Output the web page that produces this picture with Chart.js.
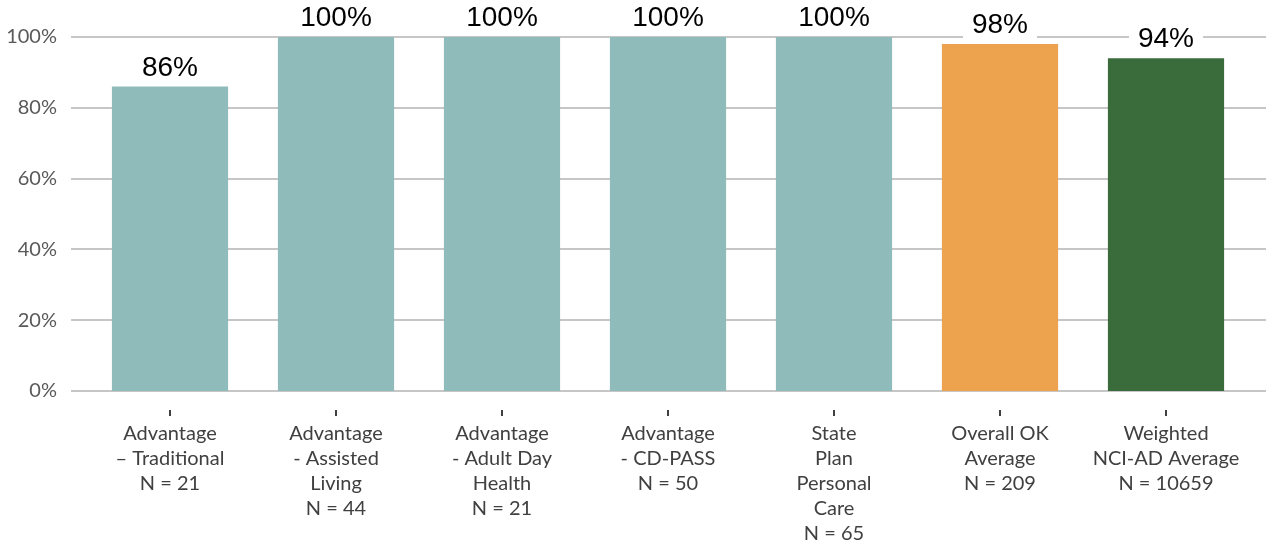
<!DOCTYPE html>
<html>
<head>
<meta charset="utf-8">
<script src="https://cdn.jsdelivr.net/npm/chart.js@4.4.1/dist/chart.umd.min.js"></script>
<style>
  html, body { margin: 0; padding: 0; background: #fff; }
  #wrap { width: 1266px; height: 547px; position: relative; }
</style>
</head>
<body>
<div id="wrap"><canvas id="myChart"></canvas></div>
<script>
const categories = [
  ["Advantage", "\u2013 Traditional", "N = 21"],
  ["Advantage", "- Assisted", "Living", "N = 44"],
  ["Advantage", "- Adult Day", "Health", "N = 21"],
  ["Advantage", "- CD-PASS", "N = 50"],
  ["State", "Plan", "Personal", "Care", "N = 65"],
  ["Overall OK", "Average", "N = 209"],
  ["Weighted", "NCI-AD Average", "N = 10659"]
];
const percentValues = [86, 100, 100, 100, 100, 98, 94];
const barColors = ["#8fbcbb", "#8fbcbb", "#8fbcbb", "#8fbcbb", "#8fbcbb", "#eda24d", "#3a6b3b"];
const yTicks = [0, 20, 40, 60, 80, 100];

// gridlines run wider than the bar area, plus little tick marks under the axis
const gridPlugin = {
  id: "gridPlugin",
  beforeDatasetsDraw(chart) {
    const { ctx, scales: { x, y } } = chart;
    ctx.save();
    ctx.strokeStyle = "#c6c6c6";
    ctx.lineWidth = 2;
    yTicks.forEach(v => {
      const py = Math.round(y.getPixelForValue(v));
      ctx.beginPath();
      ctx.moveTo(71, py);
      ctx.lineTo(chart.width, py);
      ctx.stroke();
    });
    ctx.strokeStyle = "#404040";
    ctx.lineWidth = 2;
    categories.forEach((c, i) => {
      const px = Math.round(x.getPixelForValue(i));
      ctx.beginPath();
      ctx.moveTo(px, y.bottom + 19);
      ctx.lineTo(px, y.bottom + 25);
      ctx.stroke();
    });
    ctx.restore();
  }
};

const labelPlugin = {
  id: "labelPlugin",
  afterDatasetsDraw(chart) {
    const { ctx } = chart;
    const meta = chart.getDatasetMeta(0);
    ctx.save();
    ctx.font = "28px 'Liberation Sans', Arial, sans-serif";
    ctx.textAlign = "center";
    ctx.textBaseline = "alphabetic";
    meta.data.forEach((bar, i) => {
      const text = percentValues[i] + "%";
      const w = ctx.measureText(text).width;
      const base = bar.y - 11;
      ctx.fillStyle = "#fff";
      ctx.fillRect(bar.x - w / 2 - 9, base - 25, w + 18, 33);
      ctx.fillStyle = "#000";
      ctx.fillText(text, bar.x, base);
    });
    ctx.restore();
  }
};

const ctx = document.getElementById("myChart").getContext("2d");
new Chart(ctx, {
  type: "bar",
  data: {
    labels: categories,
    datasets: [{
      data: percentValues,
      backgroundColor: barColors,
      barPercentage: 0.7,
      categoryPercentage: 1.0
    }]
  },
  options: {
    responsive: true,
    maintainAspectRatio: false,
    animation: false,
    layout: { padding: { top: 37, right: 17, left: 0, bottom: 0 } },
    plugins: {
      legend: { display: false },
      tooltip: { enabled: false }
    },
    scales: {
      x: {
        grid: { display: false },
        border: { display: false },
        ticks: {
          color: "#404040",
          font: { family: "Lato, 'Open Sans', sans-serif", size: 20, lineHeight: 1.25 },
          padding: 22,
          maxRotation: 0,
          autoSkip: false
        },
        afterFit(scale) {
          scale.height = 156;
          scale.paddingLeft = 0;
          scale.paddingRight = 0;
        }
      },
      y: {
        min: 0,
        max: 100,
        grid: { display: false, drawTicks: false },
        border: { display: false },
        ticks: {
          stepSize: 20,
          color: "#595959",
          font: { family: "Lato, 'Open Sans', sans-serif", size: 20 },
          padding: 30,
          callback: v => v + "%"
        },
        afterFit(scale) {
          scale.width = 87;
          scale.paddingTop = 0;
          scale.paddingBottom = 0;
        }
      }
    }
  },
  plugins: [gridPlugin, labelPlugin]
});
</script>
</body>
</html>
